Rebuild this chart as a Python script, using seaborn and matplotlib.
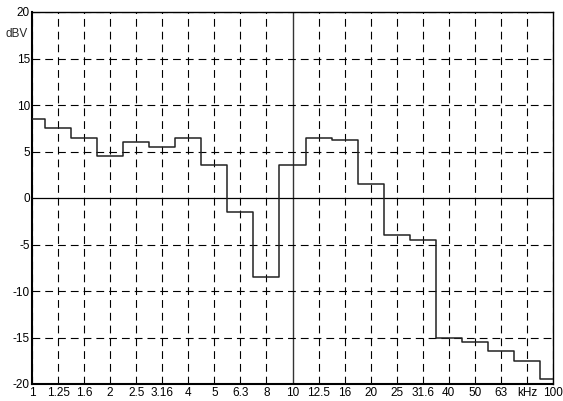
import numpy as np
import pandas as pd
import matplotlib
matplotlib.use("Agg")
import matplotlib.pyplot as plt
import seaborn as sns

# third-octave bands (kHz) and level per band (dBV)
bands = [1, 1.25, 1.6, 2, 2.5, 3.16, 4, 5, 6.3, 8, 10, 12.5, 16, 20, 25, 31.6, 40, 50, 63, 80, 100]
band_labels = ["1", "1.25", "1.6", "2", "2.5", "3.16", "4", "5", "6.3", "8", "10",
               "12.5", "16", "20", "25", "31.6", "40", "50", "63", "kHz", "100"]
levels = [8.5, 7.5, 6.5, 4.5, 6.0, 5.5, 6.5, 3.5, -1.5, -8.5, 3.5,
          6.5, 6.2, 1.5, -4.0, -4.5, -15.0, -15.5, -16.5, -17.5, -19.5]
y_ticks = [-20, -15, -10, -5, 0, 5, 10, 15, 20]

sns.set_style("white")
plt.rcParams["font.family"] = ["Liberation Sans", "DejaVu Sans"]

df = pd.DataFrame({"pos": np.arange(len(bands)), "level": levels})

fig = plt.figure(figsize=(5.63, 4.01), dpi=100)
ax = fig.add_axes([32 / 563, 1 - 384 / 401, (553 - 32) / 563, (384 - 12) / 401])

# dashed grid at every tick
for p in df["pos"]:
    if bands[p] == 10:
        ax.axvline(p, color="#333333", lw=1.0, zorder=1)
    else:
        ax.axvline(p, color="black", lw=0.8, ls=(0, (7, 4.5)), zorder=1)
for v in y_ticks:
    if v == 0:
        ax.axhline(v, color="black", lw=0.9, zorder=1)
    else:
        ax.axhline(v, color="black", lw=0.8, ls=(0, (7, 4.5)), zorder=1)

sns.lineplot(data=df, x="pos", y="level", drawstyle="steps-mid", color="#222222",
             lw=1.1, ax=ax, zorder=3, estimator=None)

ax.set_xlim(0, len(bands) - 1)
ax.set_ylim(-20, 20)
ax.set_xticks(df["pos"])
ax.set_xticklabels(band_labels)
ax.set_yticks(y_ticks)
ax.set_yticklabels([str(v) for v in y_ticks])
ax.tick_params(axis="both", length=0, labelsize=8.5, colors="black")
ax.tick_params(axis="x", pad=2)
ax.tick_params(axis="y", pad=1.5)
ax.set_xlabel("")
ax.set_ylabel("")

for s in ax.spines.values():
    s.set_color("black")
    s.set_linewidth(1.0)
    s.set_visible(True)
ax.spines["left"].set_linewidth(1.5)
ax.spines["bottom"].set_linewidth(1.5)

fig.text(6 / 563, 1 - 34 / 401, "dBV", fontsize=8.5, va="center", ha="left")

fig.savefig("out.png", dpi=100)
